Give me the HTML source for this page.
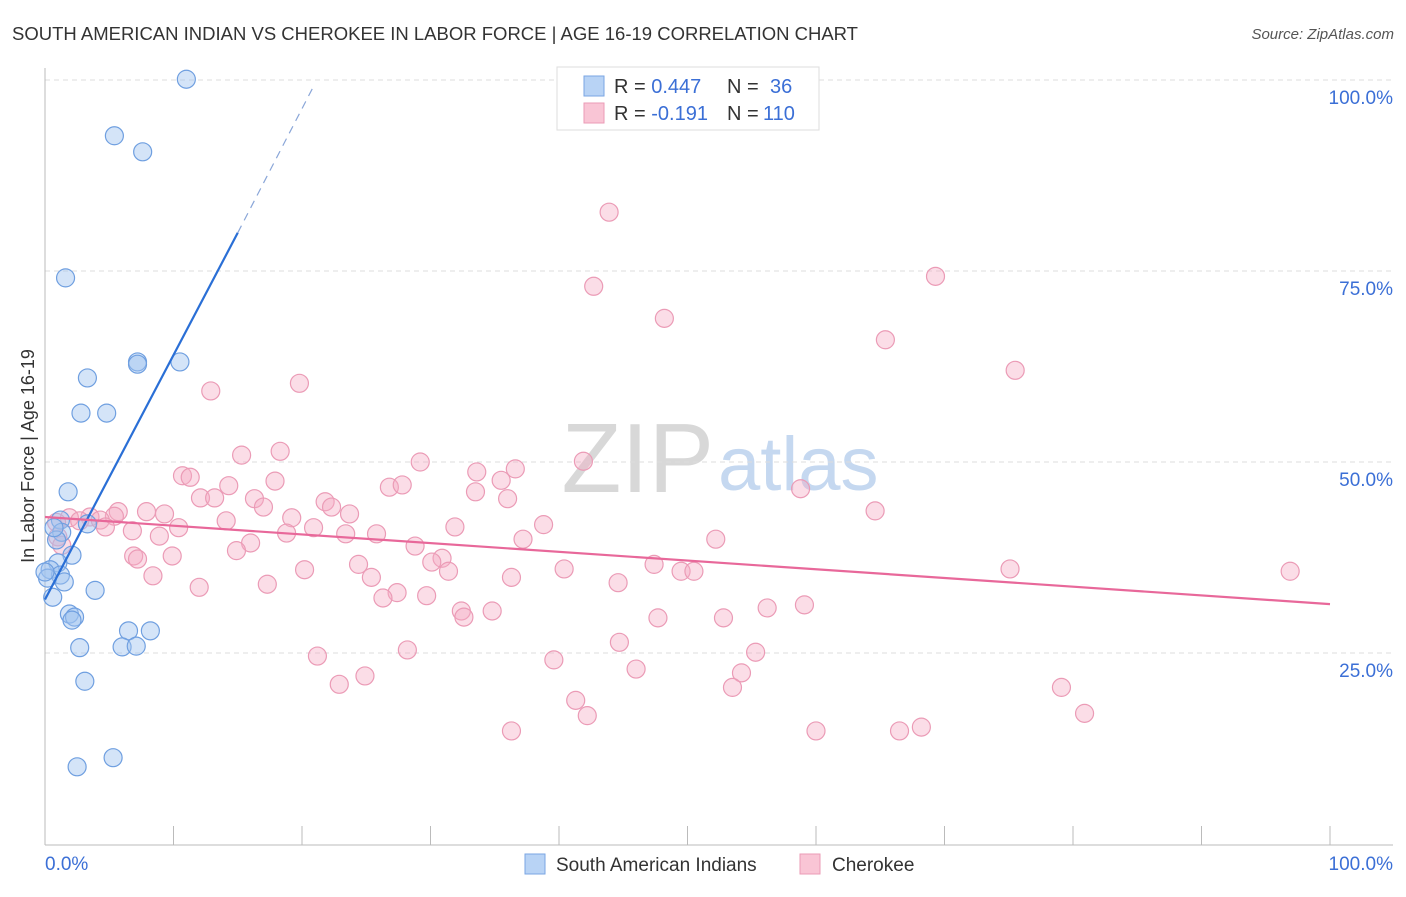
<!DOCTYPE html>
<html><head><meta charset="utf-8"><style>
body{margin:0;background:#fff;font-family:"Liberation Sans",sans-serif}
svg text{font-family:"Liberation Sans",sans-serif}
</style></head><body>
<svg id="chart" width="1406" height="892" xmlns="http://www.w3.org/2000/svg">
<text x="12" y="40" font-size="18" fill="#333" textLength="846" lengthAdjust="spacingAndGlyphs">SOUTH AMERICAN INDIAN VS CHEROKEE IN LABOR FORCE | AGE 16-19 CORRELATION CHART</text>
<text x="1394" y="39" font-size="15" fill="#555" text-anchor="end" font-style="italic">Source: ZipAtlas.com</text>
<text x="714" y="492" font-size="98" fill="#d8d8d8" text-anchor="end" font-family="Liberation Serif">ZIP</text>
<text x="718" y="490" font-size="76" fill="#c5d8f0">atlas</text>
<text transform="translate(34,456) rotate(-90)" font-size="18" fill="#333" text-anchor="middle">In Labor Force | Age 16-19</text>
<g id="grid"></g><g id="pts"></g><g id="lines"></g>
<g>
<rect x="557" y="67" width="262" height="63" fill="#fff" stroke="#ddd"/>
<rect x="584" y="76" width="20" height="20" fill="#b8d3f5" stroke="#7aa6e3"/>
<rect x="584" y="103" width="20" height="20" fill="#f9c5d5" stroke="#eb9bb6"/>
<text x="614" y="93" font-size="20" fill="#333">R = <tspan fill="#3b6fd6">0.447</tspan></text>
<text x="727" y="93" font-size="20" fill="#333">N =</text>
<text x="770" y="93" font-size="20" fill="#3b6fd6">36</text>
<text x="614" y="120" font-size="20" fill="#333">R = <tspan fill="#3b6fd6">-0.191</tspan></text>
<text x="727" y="120" font-size="20" fill="#333">N =</text>
<text x="763" y="120" font-size="20" fill="#3b6fd6">110</text>
</g>
<g>
<rect x="525" y="854" width="20" height="20" fill="#b8d3f5" stroke="#7aa6e3"/>
<text x="556" y="871" font-size="19" fill="#333">South American Indians</text>
<rect x="800" y="854" width="20" height="20" fill="#f9c5d5" stroke="#eb9bb6"/>
<text x="832" y="871" font-size="19" fill="#333">Cherokee</text>
</g>
</svg>
<script>
const blueX=[11.0,5.4,7.6,1.6,3.3,7.2,7.2,10.5,2.8,4.8,1.8,1.2,1.3,0.9,2.1,1.0,0.4,1.2,0.2,1.5,3.9,0.6,1.9,2.3,2.1,6.5,8.2,6.0,7.1,2.7,3.1,5.3,2.5,0.7,0.0,3.3];
const blueY=[100.1,92.7,90.6,74.1,61.0,63.1,62.8,63.1,56.4,56.4,46.1,42.4,40.8,39.8,37.8,36.8,35.9,35.2,34.8,34.3,33.2,32.3,30.1,29.7,29.3,27.9,27.9,25.8,25.9,25.7,21.3,11.3,10.1,41.4,35.6,41.9];
const pinkX=[43.9,42.7,69.3,48.2,65.4,75.5,19.8,12.9,18.3,15.3,29.2,41.9,36.6,33.6,10.7,11.3,17.9,26.8,27.8,35.5,14.3,33.5,58.8,36.0,12.1,13.2,16.3,21.8,22.3,17.0,23.7,64.6,5.7,7.9,9.3,5.4,3.5,1.9,4.3,2.7,14.1,19.2,31.9,38.8,20.9,10.4,4.7,6.8,18.8,23.4,25.8,8.9,1.0,37.2,52.2,16.0,14.9,28.8,6.9,9.9,7.2,24.4,30.9,30.1,31.4,20.2,47.4,49.5,50.5,40.4,75.1,96.9,8.4,25.4,36.3,44.6,17.3,12.0,27.4,26.3,29.7,59.1,56.2,32.4,34.8,32.6,47.7,52.8,44.7,28.2,55.3,21.2,39.6,46.0,24.9,54.2,22.9,53.5,79.1,41.3,80.9,42.2,36.3,60.0,66.5,68.2,0.9,1.3];
const pinkY=[82.7,73.0,74.3,68.8,66.0,62.0,60.3,59.3,51.4,50.9,50.0,50.1,49.1,48.7,48.2,48.0,47.5,46.7,47.0,47.6,46.9,46.1,46.5,45.2,45.3,45.3,45.2,44.8,44.1,44.1,43.2,43.6,43.5,43.5,43.2,42.9,42.8,42.7,42.4,42.3,42.3,42.7,41.5,41.8,41.4,41.4,41.5,41.0,40.7,40.6,40.6,40.3,40.2,39.9,39.9,39.4,38.4,39.0,37.7,37.7,37.3,36.6,37.4,36.9,35.7,35.9,36.6,35.7,35.7,36.0,36.0,35.7,35.1,34.9,34.9,34.2,34.0,33.6,32.9,32.2,32.5,31.3,30.9,30.5,30.5,29.7,29.6,29.6,26.4,25.4,25.1,24.6,24.1,22.9,22.0,22.4,20.9,20.5,20.5,18.8,17.1,16.8,14.8,14.8,14.8,15.3,42.1,39.1];
const yTicks=[25,50,75,100];
const yTickLabels=["25.0%","50.0%","75.0%","100.0%"];
const blueTrend=[[0,32.0],[15,80.0],[21,99.5]];
const pinkTrend=[[0,42.8],[100,31.4]];
const NS="http://www.w3.org/2000/svg";
const X=v=>45+v*12.85, Y=v=>844-v*7.64;
function mk(t,a,p){const e=document.createElementNS(NS,t);for(const k in a)e.setAttribute(k,a[k]);p.appendChild(e);return e;}
const svg=document.getElementById('chart'),grid=document.getElementById('grid'),pts=document.getElementById('pts'),lines=document.getElementById('lines');
yTicks.forEach((t,i)=>{
 const l=mk('line',{x1:45,x2:1393,y1:Y(t),y2:Y(t),stroke:'#ddd','stroke-dasharray':'5,4'},grid);
 
 
 const tx=mk('text',{x:1393,y:Y(t)+24,'font-size':19,fill:'#3b6fd6','text-anchor':'end'},grid);
 tx.textContent=yTickLabels[i];
 
 
});
mk('line',{x1:45,x2:45,y1:68,y2:845,stroke:'#bbb'},grid);
mk('line',{x1:45,x2:1393,y1:845,y2:845,stroke:'#bbb'},grid);
for(let i=0;i<=10;i++){const t=mk('line',{x1:X(i*10),x2:X(i*10),y1:826,y2:845,stroke:'#bbb'},grid);
 
 }
const x0=mk('text',{x:45,y:870,'font-size':19,fill:'#3b6fd6'},grid);x0.textContent='0.0%';


const x1=mk('text',{x:1393,y:870,'font-size':19,fill:'#3b6fd6','text-anchor':'end'},grid);x1.textContent='100.0%';


pinkX.forEach((v,i)=>{const c=mk('circle',{cx:X(v),cy:Y(pinkY[i]),r:9,fill:'rgba(246,170,196,0.4)',stroke:'#eb9bb6','stroke-width':1.2},pts);
 
 });
blueX.forEach((v,i)=>{const c=mk('circle',{cx:X(v),cy:Y(blueY[i]),r:9,fill:'rgba(160,196,240,0.45)',stroke:'#6f9fe0','stroke-width':1.2},pts);
 
 });
const b1=mk('line',{x1:X(blueTrend[0][0]),y1:Y(blueTrend[0][1]),x2:X(blueTrend[1][0]),y2:Y(blueTrend[1][1]),stroke:'#2a6fd6','stroke-width':2.2},lines);


const b2=mk('line',{x1:X(blueTrend[1][0]),y1:Y(blueTrend[1][1]),x2:X(blueTrend[2][0]),y2:Y(blueTrend[2][1]),stroke:'#8aa6d8','stroke-width':1.2,'stroke-dasharray':'8,6'},lines);


const p1=mk('line',{x1:X(pinkTrend[0][0]),y1:Y(pinkTrend[0][1]),x2:X(pinkTrend[1][0]),y2:Y(pinkTrend[1][1]),stroke:'#e8689a','stroke-width':2.2},lines);


</script>
</body></html>
